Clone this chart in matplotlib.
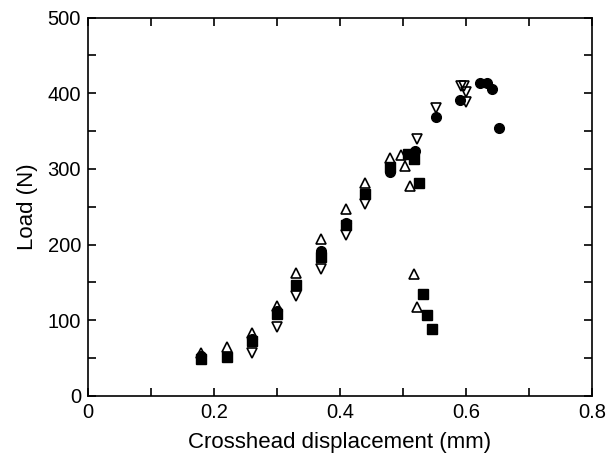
import matplotlib
matplotlib.use("Agg")
import matplotlib.pyplot as plt
from matplotlib.ticker import MultipleLocator

plt.rcParams['font.family'] = ['Liberation Sans', 'DejaVu Sans']

# filled circles
circle_x = [0.18, 0.26, 0.30, 0.37, 0.41, 0.48, 0.52, 0.552, 0.591, 0.622, 0.633, 0.642, 0.652]
circle_y = [53, 75, 112, 191, 229, 296, 324, 369, 391, 414, 414, 406, 354]

# filled squares
square_x = [0.18, 0.22, 0.26, 0.30, 0.33, 0.37, 0.41, 0.44, 0.48, 0.508, 0.518, 0.526, 0.532, 0.539, 0.546]
square_y = [49, 51, 72, 108, 147, 184, 226, 267, 302, 320, 313, 282, 134, 107, 88]

# open up-triangles
up_x = [0.18, 0.22, 0.26, 0.30, 0.33, 0.37, 0.41, 0.44, 0.48, 0.497, 0.504, 0.511, 0.517, 0.523]
up_y = [57, 64, 83, 119, 162, 207, 247, 281, 315, 318, 304, 277, 161, 117]

# open down-triangles
down_x = [0.26, 0.30, 0.33, 0.37, 0.41, 0.44, 0.522, 0.552, 0.592, 0.597, 0.600, 0.600]
down_y = [57, 91, 132, 168, 213, 253, 340, 380, 410, 410, 401, 389]

fig = plt.figure(figsize=(6.07, 4.63), dpi=100)
ax = fig.add_axes([0.145, 0.145, 0.83, 0.817])

ax.plot(up_x, up_y, linestyle='none', marker='^', markersize=7,
        markerfacecolor='none', markeredgecolor='black', markeredgewidth=1.2)
ax.plot(down_x, down_y, linestyle='none', marker='v', markersize=7,
        markerfacecolor='none', markeredgecolor='black', markeredgewidth=1.2)
ax.plot(square_x, square_y, linestyle='none', marker='s', markersize=6.5,
        color='black')
ax.plot(circle_x, circle_y, linestyle='none', marker='o', markersize=7,
        color='black')

ax.set_xlim(0, 0.8)
ax.set_ylim(0, 500)
ax.xaxis.set_minor_locator(MultipleLocator(0.1))
ax.yaxis.set_major_locator(MultipleLocator(100))
ax.yaxis.set_minor_locator(MultipleLocator(50))
ax.set_xticks([0, 0.2, 0.4, 0.6, 0.8])
ax.set_xticklabels(['0', '0.2', '0.4', '0.6', '0.8'])

ax.tick_params(which='both', direction='in', top=True, right=True, width=1.2)
ax.tick_params(which='major', length=6, labelsize=14.5, pad=5)
ax.tick_params(which='minor', length=6)
for s in ax.spines.values():
    s.set_linewidth(1.2)

ax.set_xlabel('Crosshead displacement (mm)', fontsize=16, labelpad=7)
ax.set_ylabel('Load (N)', fontsize=16, labelpad=7)

fig.savefig('out.png', dpi=100)
